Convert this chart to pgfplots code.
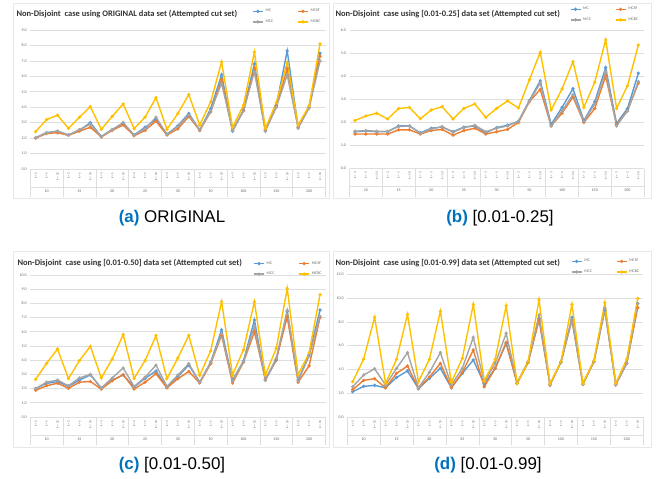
\documentclass[border=0pt]{standalone}
\usepackage{pgfplots}
\pgfplotsset{compat=1.18}
\usepackage{pgfplotstable}
\usepackage{fontspec}
\setmainfont{Liberation Sans}
\newfontfamily\chartfont{Carlito}
\definecolor{mcblue}{RGB}{91,155,213}
\definecolor{mcorange}{RGB}{237,125,49}
\definecolor{mcgray}{RGB}{165,165,165}
\definecolor{mcgold}{RGB}{255,192,0}
\definecolor{capblue}{RGB}{0,114,188}
\definecolor{gridc}{RGB}{222,222,222}
\definecolor{txt}{RGB}{100,100,100}
\definecolor{ttl}{RGB}{50,50,50}

\pgfplotstableread{
x MC MCSF MCC MCBC
0 2.02 2.00 2.02 2.42
1 2.35 2.30 2.35 3.20
2 2.45 2.35 2.45 3.48
3 2.20 2.18 2.20 2.63
4 2.50 2.45 2.55 3.35
5 3.00 2.70 2.90 4.04
6 2.10 2.08 2.10 2.57
7 2.55 2.50 2.55 3.41
8 2.95 2.85 3.00 4.21
9 2.20 2.15 2.20 2.61
10 2.70 2.50 2.60 3.35
11 3.20 3.10 3.35 4.62
12 2.25 2.20 2.25 2.57
13 2.80 2.60 2.75 3.59
14 3.60 3.40 3.50 4.82
15 2.50 2.50 2.55 2.85
16 3.90 3.70 3.75 4.34
17 6.10 5.80 5.55 6.93
18 2.45 2.50 2.50 2.70
19 3.80 3.80 3.75 4.13
20 6.80 6.50 6.30 7.58
21 2.50 2.50 2.45 2.63
22 4.10 4.05 4.00 4.30
23 7.65 6.50 6.10 6.89
24 2.70 2.70 2.65 2.85
25 4.00 4.00 3.95 4.08
26 7.50 7.30 7.00 8.10
}\dataA

\pgfplotstableread{
x MC MCSF MCC MCBC
0 1.60 1.50 1.62 2.08
1 1.63 1.50 1.65 2.28
2 1.60 1.50 1.62 2.40
3 1.60 1.50 1.62 2.15
4 1.85 1.68 1.82 2.60
5 1.85 1.68 1.85 2.65
6 1.55 1.50 1.53 2.16
7 1.75 1.65 1.72 2.54
8 1.80 1.70 1.82 2.68
9 1.60 1.45 1.58 2.15
10 1.80 1.65 1.78 2.61
11 1.85 1.75 1.88 2.80
12 1.55 1.50 1.60 2.22
13 1.78 1.60 1.75 2.61
14 1.88 1.70 1.85 2.93
15 2.05 2.00 2.05 2.63
16 2.95 2.90 2.92 3.84
17 3.80 3.43 3.70 5.04
18 1.92 1.85 1.85 2.54
19 2.65 2.40 2.50 3.45
20 3.46 3.10 3.20 4.63
21 2.08 2.00 2.05 2.65
22 2.90 2.60 2.80 3.74
23 4.37 4.00 4.20 5.57
24 1.96 1.90 1.85 2.61
25 2.60 2.50 2.50 3.58
26 4.13 3.70 3.77 5.35
}\dataB

\pgfplotstableread{
x MC MCSF MCC MCBC
0 2.00 1.88 2.00 2.65
1 2.37 2.20 2.45 3.78
2 2.49 2.38 2.60 4.79
3 2.16 2.02 2.20 2.70
4 2.60 2.45 2.75 3.97
5 2.96 2.50 3.00 4.98
6 2.02 1.97 2.05 2.75
7 2.60 2.55 2.75 4.08
8 2.96 2.98 3.45 5.80
9 2.11 1.97 2.15 2.72
10 2.72 2.45 2.80 3.97
11 3.24 3.05 3.65 5.73
12 2.09 2.05 2.15 2.70
13 2.84 2.70 2.95 4.15
14 3.66 3.20 3.75 5.75
15 2.44 2.40 2.45 2.93
16 3.85 3.75 3.85 4.65
17 6.13 5.75 5.85 8.12
18 2.60 2.40 2.55 2.96
19 3.94 3.85 3.90 4.74
20 6.83 6.00 6.40 8.12
21 2.60 2.65 2.60 2.96
22 4.00 4.05 4.15 4.84
23 7.42 7.05 7.50 9.06
24 2.60 2.45 2.55 2.98
25 4.37 3.60 4.30 4.51
26 7.54 7.00 7.10 8.62
}\dataC

\pgfplotstableread{
x MC MCSF MCC MCBC
0 2.13 2.30 2.55 2.97
1 2.58 3.08 3.53 4.87
2 2.66 3.22 4.06 8.38
3 2.46 2.46 2.69 2.83
4 3.33 3.67 4.09 4.85
5 3.87 4.29 5.41 8.63
6 2.38 2.41 2.46 2.97
7 3.25 3.36 3.75 4.85
8 4.09 4.51 5.41 8.91
9 2.46 2.46 2.69 2.91
10 3.67 3.75 4.09 4.93
11 4.79 5.63 6.69 9.47
12 2.80 2.55 2.97 3.03
13 4.09 4.09 4.51 4.85
14 6.19 6.27 7.03 9.36
15 2.83 2.83 2.91 2.83
16 4.59 4.59 4.65 4.65
17 8.29 8.15 8.57 9.86
18 2.77 2.69 2.69 2.80
19 4.59 4.65 4.65 4.65
20 8.35 8.15 8.21 9.47
21 2.77 2.77 2.77 2.83
22 4.65 4.65 4.65 4.73
23 8.99 9.13 9.13 9.61
24 2.77 2.75 2.69 2.83
25 4.51 4.51 4.51 4.87
26 9.55 9.19 9.55 9.97
}\dataD

\newcommand{\catlabels}{k = 3,k = 5,k = 10,k = 3,k = 5,k = 10,k = 3,k = 5,k = 10,k = 3,k = 5,k = 10,k = 3,k = 5,k = 10,k = 3,k = 5,k = 10,k = 3,k = 5,k = 10,k = 3,k = 5,k = 10,k = 3,k = 5,k = 10}

\newcommand{\grouplabels}{%
 \node[grp] at (axis cs:1,0) {10};
 \node[grp] at (axis cs:4,0) {15};
 \node[grp] at (axis cs:7,0) {20};
 \node[grp] at (axis cs:10,0) {25};
 \node[grp] at (axis cs:13,0) {30};
 \node[grp] at (axis cs:16,0) {50};
 \node[grp] at (axis cs:19,0) {100};
 \node[grp] at (axis cs:22,0) {150};
 \node[grp] at (axis cs:25,0) {200};
 \draw[gridc, line width=0.5bp] ([yshift=-18bp]axis cs:-0.5,0) -- ([yshift=-18bp]axis cs:26.5,0);
}

\tikzset{grp/.style={font=\chartfont\fontsize{4}{4}\selectfont, text=txt, yshift=-22bp}}

\pgfplotsset{
 panel/.style={
  scale only axis, anchor=south west,
  xmin=-0.5, xmax=26.5, ymin=0,
  axis line style={draw=none},
  ymajorgrids, grid style={gridc, line width=0.6bp},
  major tick length=0pt,
  xtick pos=lower, ytick pos=left,
  xtick={0,...,26},
  xticklabels/.expand once=\catlabels,
  xticklabel style={rotate=90, anchor=east, font=\chartfont\fontsize{3.2}{3.2}\selectfont, text=txt},
  yticklabel style={font=\chartfont\fontsize{4}{4}\selectfont, text=txt},
  /pgf/number format/.cd, fixed, fixed zerofill, precision=1, assume math mode=true, /pgfplots/.cd,
  extra x ticks={-0.5,2.5,5.5,8.5,11.5,14.5,17.5,20.5,23.5,26.5},
  extra x tick labels={},
  extra x tick style={major tick length=28bp, tick align=outside, tick style={gridc, line width=0.5bp}, xmajorgrids=false},
  clip=false,
  legend columns=2,
  legend style={draw=none, fill=none, anchor=north west, inner sep=0pt,
    font=\chartfont\fontsize{4}{4}\selectfont, text=txt,
    /tikz/every even column/.append style={column sep=22bp},
    row sep=2.5bp},
  legend cell align=left,
  legend image code/.code={\draw[mark repeat=2,mark phase=2] plot coordinates {(0bp,0bp) (5bp,0bp) (10bp,0bp)};},
  every axis plot/.append style={line width=1.4bp, mark=*, mark size=0.85bp},
 }
}

\begin{document}
\begin{tikzpicture}
\path (0bp,0bp) rectangle (656bp,479bp);

% chart area frames
\draw[gray!18, line width=0.4bp] (13bp,281bp) rectangle (329bp,476bp);
\draw[gray!18, line width=0.4bp] (333bp,281bp) rectangle (651bp,476bp);
\draw[gray!18, line width=0.4bp] (13bp,32bp) rectangle (329bp,228bp);
\draw[gray!18, line width=0.4bp] (333bp,32bp) rectangle (651bp,228bp);

% (a)
\begin{axis}[panel, at={(30.2bp,310bp)}, width=295.3bp, height=139bp, ymax=9, ytick={0,1,...,9},
  legend style={at={(0.751,1.165)}}]
\addplot[mcblue] table[x=x,y=MC]{\dataA};
\addplot[mcorange] table[x=x,y=MCSF]{\dataA};
\addplot[mcgray] table[x=x,y=MCC]{\dataA};
\addplot[mcgold] table[x=x,y=MCBC]{\dataA};
\legend{MC,MCSF,MCC,MCBC}
\grouplabels
\end{axis}
\node[anchor=west, text=ttl, font=\chartfont\bfseries\fontsize{8.5}{8.5}\selectfont] at (13bp,465bp) {Non-Disjoint\ \ case using ORIGINAL data set (Attempted cut set)};
\node[font=\fontsize{17}{17}\selectfont] at (172bp,261bp) {\textcolor{capblue}{\bfseries (a)} ORIGINAL};

% (b)
\begin{axis}[panel, at={(349.5bp,310.3bp)}, width=294.3bp, height=138.7bp, ymax=6, ytick={0,1,...,6},
  legend style={at={(0.748,1.18)}}]
\addplot[mcblue] table[x=x,y=MC]{\dataB};
\addplot[mcorange] table[x=x,y=MCSF]{\dataB};
\addplot[mcgray] table[x=x,y=MCC]{\dataB};
\addplot[mcgold] table[x=x,y=MCBC]{\dataB};
\legend{MC,MCSF,MCC,MCBC}
\grouplabels
\end{axis}
\node[anchor=west, text=ttl, font=\chartfont\bfseries\fontsize{8.5}{8.5}\selectfont] at (332bp,465bp) {Non-Disjoint\ \ case using [0.01-0.25] data set (Attempted cut set)};
\node[font=\fontsize{17}{17}\selectfont] at (500bp,261bp) {\textcolor{capblue}{\bfseries (b)} [0.01-0.25]};

% (c)
\begin{axis}[panel, at={(30.2bp,62bp)}, width=295.3bp, height=142bp, ymax=10, ytick={0,1,...,10},
  legend style={at={(0.755,1.11)}}]
\addplot[mcblue] table[x=x,y=MC]{\dataC};
\addplot[mcorange] table[x=x,y=MCSF]{\dataC};
\addplot[mcgray] table[x=x,y=MCC]{\dataC};
\addplot[mcgold] table[x=x,y=MCBC]{\dataC};
\legend{MC,MCSF,MCC,MCBC}
\grouplabels
\end{axis}
\node[anchor=west, text=ttl, font=\chartfont\bfseries\fontsize{8.5}{8.5}\selectfont] at (14bp,216bp) {Non-Disjoint\ \ case using [0.01-0.50] data set (Attempted cut set)};
\node[font=\fontsize{17}{17}\selectfont] at (172bp,14bp) {\textcolor{capblue}{\bfseries (c)} [0.01-0.50]};

% (d)
\begin{axis}[panel, at={(347.2bp,62bp)}, width=296bp, height=142.7bp, ymax=12, ytick={0,2,...,12},
  legend style={at={(0.755,1.12)}}]
\addplot[mcblue] table[x=x,y=MC]{\dataD};
\addplot[mcorange] table[x=x,y=MCSF]{\dataD};
\addplot[mcgray] table[x=x,y=MCC]{\dataD};
\addplot[mcgold] table[x=x,y=MCBC]{\dataD};
\legend{MC,MCSF,MCC,MCBC}
\grouplabels
\end{axis}
\node[anchor=west, text=ttl, font=\chartfont\bfseries\fontsize{8.5}{8.5}\selectfont] at (332bp,216bp) {Non-Disjoint\ \ case using [0.01-0.99] data set (Attempted cut set)};
\node[font=\fontsize{17}{17}\selectfont] at (488bp,14bp) {\textcolor{capblue}{\bfseries (d)} [0.01-0.99]};
\end{tikzpicture}
\end{document}
